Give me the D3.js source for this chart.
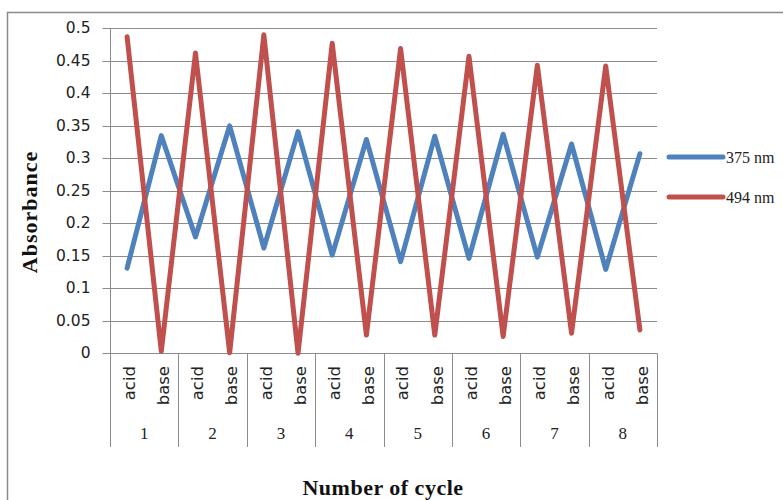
<!DOCTYPE html>
<html>
<head>
<meta charset="utf-8">
<script src="https://cdn.jsdelivr.net/npm/d3@7/dist/d3.min.js"></script>
<style>
  html, body { margin: 0; padding: 0; background: #fff; }
  svg { display: block; }
</style>
</head>
<body>
<svg id="chart" width="783" height="500"></svg>
<script>
const cycles = ["1", "2", "3", "4", "5", "6", "7", "8"];
const conditions = ["acid", "base"];
const series375 = [0.131, 0.335, 0.179, 0.350, 0.162, 0.341, 0.151, 0.329, 0.141, 0.334, 0.146, 0.337, 0.148, 0.322, 0.129, 0.307];
const series494 = [0.487, 0.003, 0.462, 0.001, 0.490, 0.000, 0.477, 0.028, 0.469, 0.028, 0.457, 0.026, 0.443, 0.031, 0.442, 0.036];
const seriesNames = ["375 nm", "494 nm"];
const yTicks = [0, 0.05, 0.1, 0.15, 0.2, 0.25, 0.3, 0.35, 0.4, 0.45, 0.5];

(function () {
const svg = d3.select("#chart");
const colors = ["#4F81BD", "#C0504D"];
const gridColor = "#8c8c8c";

// outer chart border
svg.append("rect").attr("x", 7.5).attr("y", 12.5).attr("width", 820).attr("height", 520)
  .attr("fill", "none").attr("stroke", "#8a8a8a").attr("stroke-width", 1.5);

const pLeft = 110, pRight = 657, pTop = 28.3, pBottom = 353.3;

const categories = [];
cycles.forEach(c => conditions.forEach(k => categories.push(c + "|" + k)));

const x = d3.scaleBand().domain(categories).range([pLeft, pRight]);
const xg = d3.scaleBand().domain(cycles).range([pLeft, pRight]);
const y = d3.scaleLinear().domain([0, 0.5]).range([pBottom, pTop]);

// gridlines
svg.append("g").selectAll("line").data(yTicks.filter(t => t > 0)).join("line")
  .attr("x1", pLeft).attr("x2", pRight)
  .attr("y1", d => Math.round(y(d)) + 0.5).attr("y2", d => Math.round(y(d)) + 0.5)
  .attr("stroke", gridColor).attr("stroke-width", 1);

// y axis
const yAxis = d3.axisLeft(y).tickValues(yTicks).tickSize(8).tickPadding(12)
  .tickFormat(d => String(+d.toFixed(2)));
const gy = svg.append("g").attr("transform", `translate(${pLeft + 0.5},0)`).call(yAxis);
gy.select(".domain").attr("stroke", gridColor).attr("d", `M0,${pTop}V${pBottom}`);
gy.selectAll(".tick line").attr("stroke", gridColor);
gy.selectAll(".tick text").attr("font-family", "DejaVu Sans, sans-serif").attr("font-size", 15.5).attr("fill", "#222");
gy.selectAll(".tick").attr("transform", d => `translate(0,${Math.round(y(d)) + 0.5})`);

// x axis line
svg.append("line").attr("x1", pLeft).attr("x2", pRight)
  .attr("y1", Math.round(pBottom) + 0.5).attr("y2", Math.round(pBottom) + 0.5)
  .attr("stroke", gridColor);

// group separators
const seps = cycles.map(c => xg(c)).concat([pRight]);
svg.append("g").selectAll("line").data(seps).join("line")
  .attr("x1", d => Math.round(d) + 0.5).attr("x2", d => Math.round(d) + 0.5)
  .attr("y1", pBottom).attr("y2", 447)
  .attr("stroke", gridColor);

// condition labels
svg.append("g").selectAll("text").data(categories).join("text")
  .attr("transform", d => `translate(${x(d) + x.bandwidth() / 2 + 2},366) rotate(-90)`)
  .attr("text-anchor", "end").attr("dy", "0.35em")
  .attr("font-family", "DejaVu Sans, sans-serif").attr("font-size", 16.5).attr("fill", "#222")
  .text(d => d.split("|")[1]);

// cycle labels
svg.append("g").selectAll("text").data(cycles).join("text")
  .attr("x", d => xg(d) + xg.bandwidth() / 2).attr("y", 439)
  .attr("text-anchor", "middle")
  .attr("font-family", "Liberation Serif, serif").attr("font-size", 17).attr("fill", "#222")
  .text(d => d);

// lines
const line = d3.line().x((d, i) => x(categories[i]) + x.bandwidth() / 2).y(d => y(d));
[series375, series494].forEach((s, i) => {
  svg.append("path").datum(s).attr("d", line)
    .attr("fill", "none").attr("stroke", colors[i]).attr("stroke-width", 5)
    .attr("stroke-linejoin", "round").attr("stroke-linecap", "round");
});

// legend
const legendY = [157, 197];
seriesNames.forEach((n, i) => {
  svg.append("line").attr("x1", 669).attr("x2", 723).attr("y1", legendY[i]).attr("y2", legendY[i])
    .attr("stroke", colors[i]).attr("stroke-width", 5).attr("stroke-linecap", "round");
  svg.append("text").attr("x", 726).attr("y", legendY[i]).attr("dy", "0.35em")
    .attr("font-family", "Liberation Serif, serif").attr("font-size", 16).attr("fill", "#222")
    .text(n);
});

// axis titles
svg.append("text").attr("transform", `translate(37,212) rotate(-90)`)
  .attr("text-anchor", "middle")
  .attr("font-family", "Liberation Serif, serif").attr("font-weight", "bold").attr("font-size", 22)
  .attr("letter-spacing", 1).attr("fill", "#111")
  .text("Absorbance");
svg.append("text").attr("x", 383).attr("y", 495)
  .attr("text-anchor", "middle")
  .attr("font-family", "Liberation Serif, serif").attr("font-weight", "bold").attr("font-size", 22)
  .attr("letter-spacing", 0.5).attr("fill", "#111")
  .text("Number of cycle");
})();
</script>
</body>
</html>
